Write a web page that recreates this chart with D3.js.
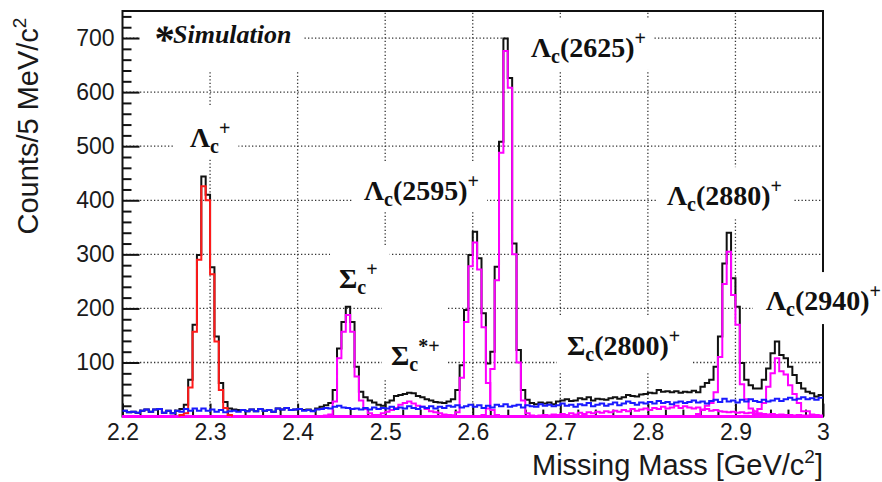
<!DOCTYPE html>
<html>
<head>
<meta charset="utf-8">
<script src="https://cdn.jsdelivr.net/npm/d3@7"></script>
<style>
body { margin: 0; background: #fff; }
svg { display: block; }
.axis text { font-family: "Liberation Sans", Arial, sans-serif; font-size: 23px; fill: #1a1a1a; }
.axis line { stroke: #111; stroke-width: 2px; }
.grid line { stroke: #333; stroke-width: 1.3px; stroke-dasharray: 1.3,2.2; }
.hist { fill: none; stroke-width: 2px; stroke-linejoin: miter; }
.label { font-family: "Liberation Serif", "Times New Roman", serif; font-weight: bold; fill: #111; }
</style>
</head>
<body>
<svg id="chart" width="882" height="482"></svg>
<script>
// 5 MeV bins, 2.2 - 3.0 GeV
var xMin = 2.2, xMax = 3.0, binWidth = 0.005, nBins = 160;
var xTicks = [2.2, 2.3, 2.4, 2.5, 2.6, 2.7, 2.8, 2.9, 3.0];
var yTicks = [100, 200, 300, 400, 500, 600, 700];

// black: sum of everything
var total = [
  11, 8, 9, 7, 11, 13, 9, 13, 14, 7,
  11, 6, 11, 14, 22, 68, 170, 299, 444, 410,
  276, 148, 62, 27, 15, 13, 12, 12, 10, 13,
  10, 14, 11, 12, 9, 15, 13, 16, 12, 13,
  14, 12, 13, 11, 15, 18, 21, 25, 49, 126,
  175, 203, 175, 92, 46, 36, 30, 26, 22, 20,
  26, 30, 38, 40, 42, 44, 43, 38, 36, 32,
  30, 27, 26, 25, 28, 32, 49, 95, 197, 299,
  342, 293, 191, 98, 120, 277, 508, 699, 626, 320,
  123, 49, 31, 25, 23, 26, 24, 26, 23, 28,
  30, 32, 29, 30, 34, 32, 36, 30, 33, 32,
  31, 34, 36, 33, 36, 40, 38, 37, 41, 42,
  44, 43, 49, 46, 47, 45, 47, 44, 46, 45,
  48, 45, 55, 62, 68, 92, 148, 283, 340, 256,
  203, 99, 68, 58, 52, 52, 68, 89, 117, 139,
  114, 108, 92, 77, 62, 52, 46, 43, 37, 40
];

// blue: background
var background = [
  11, 8, 9, 7, 11, 13, 9, 13, 14, 7,
  11, 6, 11, 9, 14, 11, 15, 11, 15, 11,
  13, 9, 12, 8, 10, 11, 9, 12, 10, 13,
  10, 14, 11, 12, 9, 15, 13, 16, 12, 13,
  14, 11, 12, 10, 13, 14, 16, 15, 18, 20,
  17, 16, 14, 15, 13, 16, 13, 17, 14, 16,
  15, 18, 14, 17, 15, 19, 16, 14, 18, 16,
  19, 15, 18, 16, 20, 18, 21, 17, 19, 22,
  18, 21, 16, 20, 17, 22, 19, 23, 18, 20,
  22, 17, 21, 19, 18, 23, 20, 22, 19, 21,
  24, 20, 22, 18, 23, 21, 25, 19, 22, 24,
  20, 23, 26, 21, 24, 28, 25, 22, 26, 24,
  27, 24, 29, 25, 27, 23, 26, 28, 25, 27,
  30, 26, 28, 24, 29, 31, 27, 33, 28, 30,
  26, 31, 28, 32, 29, 27, 31, 28, 30, 33,
  29, 32, 35, 31, 33, 36, 32, 34, 31, 35
];

// red: ground state, first bin index + counts
var lambdaCStart = 13;
var lambdaC = [3, 6, 54, 157, 290, 426, 400, 263, 139, 49, 16, 3];

// magenta: excited states
var sigmaCStart = 46;
var sigmaC = [2, 4, 28, 108, 157, 188, 157, 74, 30, 14, 6, 3, 2];
var sigmaCStarStart = 58;
var sigmaCStar = [3, 6, 9, 12, 16, 22, 25, 28, 24, 20, 18, 14, 10, 8, 6, 4, 3, 2];
var lc2595Start = 75;
var lc2595 = [2, 8, 72, 175, 278, 322, 272, 165, 62, 12, 3];
var lc2625Start = 82;
var lc2625 = [3, 15, 88, 252, 488, 676, 608, 300, 100, 30, 6, 2];
var sc2800Start = 95;
var sc2800 = [
  2, 3, 2, 4, 3,
  5, 3, 6, 4, 7, 5, 8, 6, 9, 7,
  10, 8, 11, 9, 12, 10, 14, 11, 13, 15,
  12, 16, 14, 18, 15, 17, 20, 16, 19, 17,
  15, 17, 13, 14, 11, 12, 10, 9, 8, 9,
  7, 8, 6, 7, 5, 6, 5, 4, 5, 3,
  4, 3, 3, 2, 3, 2, 2, 1, 2, 1
];
var lc2880Start = 131;
var lc2880 = [5, 12, 20, 25, 45, 110, 245, 305, 225, 170, 60, 32, 15, 10, 4];
var lc2940Start = 144;
var lc2940 = [6, 14, 25, 55, 80, 108, 84, 78, 58, 42, 25, 10, 10, 4, 3, 2];

// annotations: anchor in data coords (left edge, baseline), box padding t r b l
var labels = [
  { parts: [["Λ"], ["c", "sub"], ["+", "sup"]], x: 2.2771, y: 498, box: [12, 8, 2, 17] },
  { parts: [["Σ"], ["c", "sub"], ["+", "sup"]], x: 2.4473, y: 238, box: [11, 12, 4, 9] },
  { parts: [["Σ"], ["c", "sub"], ["*+", "sup"]], x: 2.5066, y: 95, box: [35, 8, 4, 9] },
  { parts: [["Λ"], ["c", "sub"], ["(2595)"], ["+", "sup"]], x: 2.4758, y: 400, box: [8, 8, 1, 11] },
  { parts: [["Λ"], ["c", "sub"], ["(2625)"], ["+", "sup"]], x: 2.6665, y: 665, box: [8, 8, 3, 23] },
  { parts: [["Λ"], ["c", "sub"], ["(2880)"], ["+", "sup"]], x: 2.8218, y: 391, box: [8, 11, 4, 10] },
  { parts: [["Λ"], ["c", "sub"], ["(2940)"], ["+", "sup"]], x: 2.9349, y: 197, box: [8, 10, 4, 13] },
  { parts: [["Σ"], ["c", "sub"], ["(2800)"], ["+", "sup"]], x: 2.7076, y: 114, box: [8, 12, 6, 10] }
];

var svg = d3.select("#chart");
var x = d3.scaleLinear().domain([xMin, xMax]).range([122.5, 823]);
var y = d3.scaleLinear().domain([0, 750]).range([416.6, 11]);

function edge(k) { return xMin + k * binWidth; }
function pad(start, vals) {
  var full = new Array(nBins).fill(0);
  vals.forEach(function(v, i) { full[start + i] = v; });
  return full;
}

// grid
var grid = svg.append("g").attr("class", "grid");
grid.selectAll(".gx").data(xTicks.slice(1, -1)).enter().append("line")
  .attr("x1", function(d) { return x(d); }).attr("x2", function(d) { return x(d); })
  .attr("y1", y(0)).attr("y2", y(750));
grid.selectAll(".gy").data(yTicks).enter().append("line")
  .attr("y1", function(d) { return y(d); }).attr("y2", function(d) { return y(d); })
  .attr("x1", x(xMin)).attr("x2", x(xMax));

// axes, ticks inside the frame
var yMinor = d3.range(20, 750, 20).filter(function(v) { return v % 100 != 0; });
var xMinor = d3.range(0, 41).map(function(i) { return +(xMin + i * 0.02).toFixed(2); })
  .filter(function(v) { return xTicks.indexOf(v) < 0; });

svg.append("g").attr("class", "axis").attr("transform", "translate(" + x(xMin) + ",0)")
  .call(d3.axisLeft(y).tickValues(yTicks).tickSize(-17).tickPadding(8))
  .call(function(g) { g.select(".domain").remove(); });
svg.append("g").attr("class", "axis").attr("transform", "translate(" + x(xMin) + ",0)")
  .call(d3.axisLeft(y).tickValues(yMinor).tickSize(-9).tickFormat(""))
  .call(function(g) { g.select(".domain").remove(); });
svg.append("g").attr("class", "axis").attr("transform", "translate(0," + y(0) + ")")
  .call(d3.axisBottom(x).tickValues(xTicks).tickSize(-13).tickPadding(7)
    .tickFormat(function(d) { return String(+d.toFixed(1)); }))
  .call(function(g) { g.select(".domain").remove(); });
svg.append("g").attr("class", "axis").attr("transform", "translate(0," + y(0) + ")")
  .call(d3.axisBottom(x).tickValues(xMinor).tickSize(-7).tickFormat(""))
  .call(function(g) { g.select(".domain").remove(); });

svg.append("rect")
  .attr("x", x(xMin)).attr("y", y(750))
  .attr("width", x(xMax) - x(xMin)).attr("height", y(0) - y(750))
  .attr("fill", "none").attr("stroke", "#111").attr("stroke-width", 2);

// axis titles
var yt = svg.append("text")
  .attr("transform", "translate(38,126) rotate(-90)")
  .attr("text-anchor", "middle")
  .style("font-family", "'Liberation Sans', Arial, sans-serif").style("font-size", "29px").attr("fill", "#1a1a1a");
yt.append("tspan").text("Counts/5 MeV/c");
yt.append("tspan").attr("dy", -12).style("font-size", "19px").text("2");

var xt = svg.append("text")
  .attr("x", x(xMax)).attr("y", 475)
  .attr("text-anchor", "end")
  .style("font-family", "'Liberation Sans', Arial, sans-serif").style("font-size", "29px").attr("fill", "#1a1a1a");
xt.append("tspan").text("Missing Mass [GeV/c");
xt.append("tspan").attr("dy", -12).style("font-size", "19px").text("2");
xt.append("tspan").attr("dy", 12).text("]");

// labels with white boxes over the grid
function addLabel(g, lab) {
  var t = g.append("text").attr("class", "label")
    .attr("x", x(lab.x)).attr("y", y(lab.y)).style("font-size", "28px");
  var off = 0;
  lab.parts.forEach(function(p) {
    var target = p[1] == "sub" ? 6 : p[1] == "sup" ? -12 : 0;
    t.append("tspan").attr("dy", target - off)
      .style("font-size", p[1] ? "20px" : null).text(p[0]);
    off = target;
  });
  return t;
}

var simBox = svg.append("rect").attr("fill", "#fff");
var sim = svg.append("text").attr("class", "label")
  .attr("x", x(2.2348)).attr("y", y(690.8))
  .style("font-size", "26px").style("font-style", "italic");
sim.append("tspan").attr("dy", 10).style("font-size", "40px").text("*");
sim.append("tspan").attr("dy", -10).text("Simulation");
var sb = sim.node().getBBox();
simBox.attr("x", sb.x - 13).attr("y", y(750) + 1).attr("width", sb.width + 25).attr("height", sb.y + sb.height + 7 - y(750));

labels.forEach(function(lab) {
  var g = svg.append("g");
  var box = g.append("rect").attr("fill", "#fff");
  var t = addLabel(g, lab);
  var b = t.node().getBBox();
  box.attr("x", b.x - lab.box[3]).attr("y", b.y - lab.box[0])
    .attr("width", b.width + lab.box[1] + lab.box[3])
    .attr("height", b.height + lab.box[0] + lab.box[2]);
});

// histograms
function stepLine(vals) {
  var pts = vals.map(function(v, k) { return [edge(k), v]; });
  pts.push([edge(vals.length), vals[vals.length - 1]]);
  return d3.line().curve(d3.curveStepAfter)
    .x(function(d) { return x(d[0]); }).y(function(d) { return y(d[1]); })(pts);
}
function stepPart(start, vals) {
  var pts = [[edge(start), 0]];
  vals.forEach(function(v, i) { pts.push([edge(start + i), v]); });
  pts.push([edge(start + vals.length), vals[vals.length - 1]]);
  pts.push([edge(start + vals.length), 0]);
  return d3.line().curve(d3.curveStepAfter)
    .x(function(d) { return x(d[0]); }).y(function(d) { return y(d[1]); })(pts);
}

var hists = svg.append("g");
hists.append("path").attr("class", "hist").attr("stroke", "#111").attr("d", stepLine(total));
var magenta = [
  [sigmaCStart, sigmaC], [sigmaCStarStart, sigmaCStar], [lc2595Start, lc2595],
  [lc2625Start, lc2625], [sc2800Start, sc2800], [lc2880Start, lc2880], [lc2940Start, lc2940]
];
magenta.forEach(function(m) {
  hists.append("path").attr("class", "hist").attr("stroke", "#ff00ff")
    .attr("d", stepLine(pad(m[0], m[1])));
});
hists.append("path").attr("class", "hist").attr("stroke", "#ff1a1a").attr("d", stepPart(lambdaCStart, lambdaC));
hists.append("path").attr("class", "hist").attr("stroke", "#1a1aff").attr("d", stepLine(background));
</script>
</body>
</html>
